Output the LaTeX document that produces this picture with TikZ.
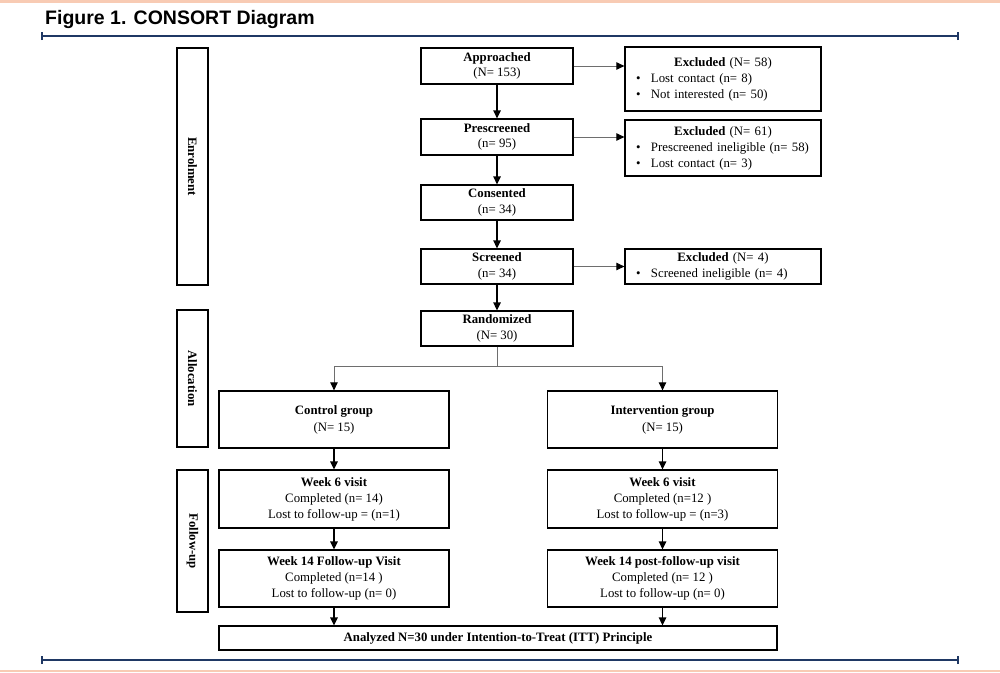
\documentclass[tikz,border=0pt]{standalone}
\usepackage{fontspec}
\setmainfont{Liberation Serif}
\newfontfamily\titlefont{Liberation Sans}
\usetikzlibrary{arrows.meta}
\definecolor{navy}{HTML}{1F3864}
\definecolor{salmon}{HTML}{F8CBB4}
\definecolor{arrgray}{HTML}{6E6E6E}
\begin{document}
\begin{tikzpicture}[x=1pt,y=-1pt,
  every node/.style={font=\fontsize{12.8pt}{15.5pt}\selectfont, text=black},
  box/.style={draw=black, line width=1.3pt, align=center, inner sep=1pt},
  mainbox/.style={box, minimum width=152pt, minimum height=35pt},
  grpbox/.style={box, minimum width=230pt, minimum height=57pt, font=\fontsize{12.8pt}{16pt}\selectfont},
  exbox/.style={box, minimum width=196pt, text width=174pt, inner xsep=11pt, align=left, font=\fontsize{12.8pt}{16pt}\selectfont},
  sidebox/.style={box, minimum width=31pt},
  sidetext/.style={rotate=-90, font=\fontsize{12.8pt}{15.5pt}\selectfont\bfseries},
  mainarrow/.style={line width=1.4pt, -{Triangle[length=8pt,width=7.5pt]}},
  grayarrow/.style={line width=0.9pt, arrgray, -{Triangle[length=8pt,width=7.5pt,color=black]}},
  grayline/.style={line width=0.9pt, arrgray},
  rule/.style={navy, line width=1.6pt}
]
\useasboundingbox (0,0) rectangle (1000,672);
% pink border lines
\fill[salmon] (0,0) rectangle (1000,2.7);
\fill[salmon] (0,670) rectangle (1000,672);
% title
\node[anchor=base west, inner sep=0pt, font=\titlefont\bfseries\fontsize{19.5pt}{22pt}\selectfont] (title) at (45,24) {Figure 1. CONSORT Diagram};
% header and footer rules
\coordinate (hl) at (42,36); \coordinate (hr) at (958,36);
\coordinate (fl) at (42,660); \coordinate (fr) at (958,660);
\draw[rule] (hl) -- (hr);
\draw[rule] ([yshift=-4pt]hl) -- ([yshift=4pt]hl);
\draw[rule] ([yshift=-4pt]hr) -- ([yshift=4pt]hr);
\draw[rule] (fl) -- (fr);
\draw[rule] ([yshift=-4pt]fl) -- ([yshift=4pt]fl);
\draw[rule] ([yshift=-4pt]fr) -- ([yshift=4pt]fr);

% side boxes
\node[sidebox, minimum height=237pt] (enrol) at (192.5,166.5) {};
\node[sidetext] (enrolt) at (enrol.center) {Enrolment};
\node[sidebox, minimum height=137pt] (alloc) at (192.5,378.5) {};
\node[sidetext] (alloct) at (alloc.center) {Allocation};
\node[sidebox, minimum height=142pt] (fu) at (192.5,541) {};
\node[sidetext] (fut) at (fu.center) {Follow-up};

% main column
\node[mainbox, minimum height=36pt] (appr) at (497,66) {\textbf{Approached}\\(N= 153)};
\node[mainbox, minimum height=36pt] (pres) at (497,137) {\textbf{Prescreened}\\(n= 95)};
\node[mainbox] (cons) at (497,202.5) {\textbf{Consented}\\(n= 34)};
\node[mainbox] (scr) at (497,266.5) {\textbf{Screened}\\(n= 34)};
\node[mainbox] (rand) at (497,328.5) {\textbf{Randomized}\\(N= 30)};

% excluded boxes
\node[exbox, minimum height=64pt] (exc1) at (723,79) {\makebox[174pt][c]{\textbf{Excluded} (N= 58)}\\
  \makebox[15pt][l]{\textbullet}Lost contact (n= 8)\\
  \makebox[15pt][l]{\textbullet}Not interested (n= 50)};
\node[exbox, minimum height=56pt] (exc2) at (723,148) {\makebox[174pt][c]{\textbf{Excluded} (N= 61)}\\
  \makebox[15pt][l]{\textbullet}Prescreened ineligible (n= 58)\\
  \makebox[15pt][l]{\textbullet}Lost contact (n= 3)};
\node[exbox, minimum height=35pt] (exc3) at (723,266.5) {\makebox[174pt][c]{\textbf{Excluded} (N= 4)}\\
  \makebox[15pt][l]{\textbullet}Screened ineligible (n= 4)};

% groups
\node[grpbox] (ctrl) at (334,419.5) {\textbf{Control group}\\[1pt](N= 15)};
\node[grpbox] (intv) at (662.5,419.5) {\textbf{Intervention group}\\[1pt](N= 15)};
\node[grpbox, minimum height=58pt] (w6c) at (334,499) {\textbf{Week 6 visit}\\Completed (n= 14)\\Lost to follow-up = (n=1)};
\node[grpbox, minimum height=58pt] (w6i) at (662.5,499) {\textbf{Week 6 visit}\\Completed (n=12 )\\Lost to follow-up = (n=3)};
\node[grpbox] (w14c) at (334,578.5) {\textbf{Week 14 Follow-up Visit}\\Completed (n=14 )\\Lost to follow-up (n= 0)};
\node[grpbox] (w14i) at (662.5,578.5) {\textbf{Week 14 post-follow-up visit}\\Completed (n= 12 )\\Lost to follow-up (n= 0)};
\node[box, minimum width=558pt, minimum height=24pt] (anal) at (498,638) {\textbf{Analyzed N=30 under Intention-to-Treat (ITT) Principle}};

% main arrows
\draw[mainarrow] (appr) -- (pres);
\draw[mainarrow] (pres) -- (cons);
\draw[mainarrow] (cons) -- (scr);
\draw[mainarrow] (scr) -- (rand);
\draw[mainarrow] (ctrl) -- (w6c);
\draw[mainarrow] (w6c) -- (w14c);
\draw[mainarrow] (intv) -- (w6i);
\draw[mainarrow] (w6i) -- (w14i);
\draw[mainarrow] (w14c.south) -- (w14c.south |- anal.north);
\draw[mainarrow] (w14i.south) -- (w14i.south |- anal.north);

% exclusion arrows
\draw[grayarrow] (appr.east) -- (appr.east -| exc1.west);
\draw[grayarrow] (pres.east) -- (pres.east -| exc2.west);
\draw[grayarrow] (scr.east) -- (scr.east -| exc3.west);

% randomization branch
\coordinate (br) at ([yshift=-20pt]rand.south);
\draw[grayline] (rand.south) -- (br);
\draw[grayline] (br -| ctrl.north) -- (br -| intv.north);
\draw[grayarrow] (br -| ctrl.north) -- (ctrl.north);
\draw[grayarrow] (br -| intv.north) -- (intv.north);
\end{tikzpicture}
\end{document}
